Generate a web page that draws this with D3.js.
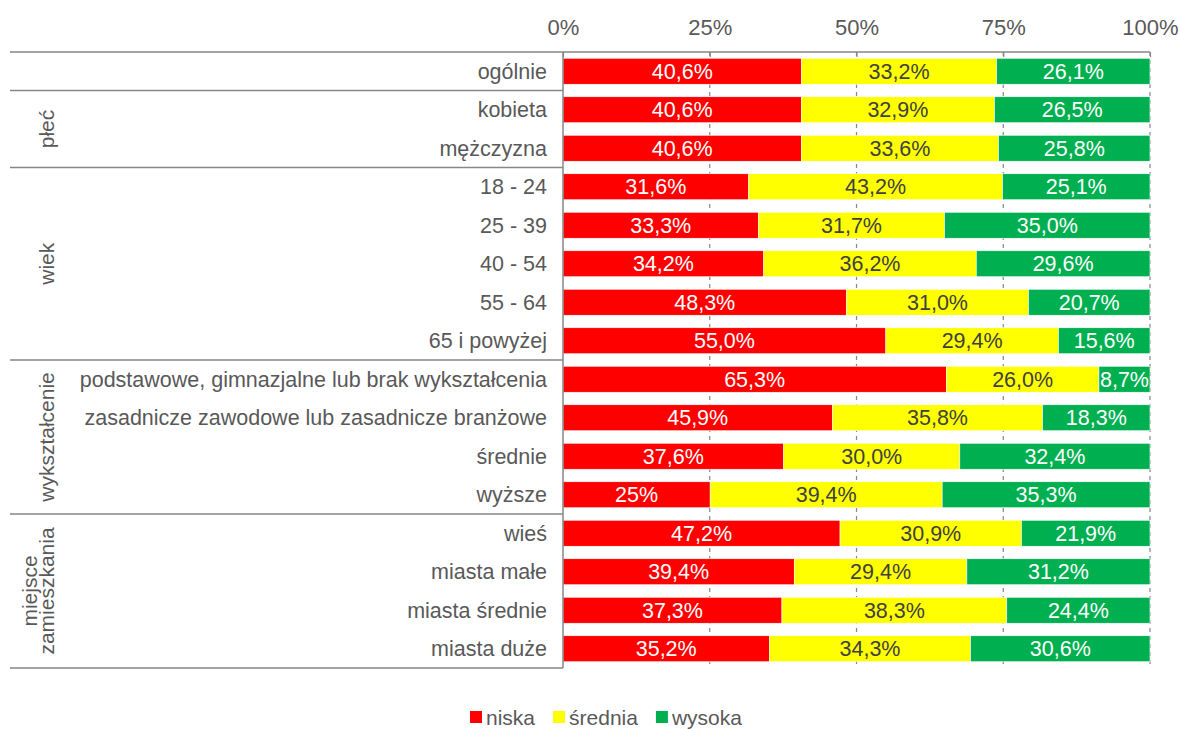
<!DOCTYPE html>
<html><head><meta charset="utf-8">
<script src="https://cdn.jsdelivr.net/npm/d3@7"></script>
<style>body{margin:0;background:#fff}svg{display:block;font-family:"Liberation Sans",Arial,sans-serif}</style>
</head><body><svg id="c" width="1180" height="729"></svg>
<script>
const categories = ["ogólnie","kobieta","mężczyzna","18 - 24","25 - 39","40 - 54","55 - 64","65 i powyżej",
  "podstawowe, gimnazjalne lub brak wykształcenia","zasadnicze zawodowe lub zasadnicze branżowe","średnie","wyższe",
  "wieś","miasta małe","miasta średnie","miasta duże"];
const niska   = ["40,6","40,6","40,6","31,6","33,3","34,2","48,3","55,0","65,3","45,9","37,6","25","47,2","39,4","37,3","35,2"];
const srednia = ["33,2","32,9","33,6","43,2","31,7","36,2","31,0","29,4","26,0","35,8","30,0","39,4","30,9","29,4","38,3","34,3"];
const wysoka  = ["26,1","26,5","25,8","25,1","35,0","29,6","20,7","15,6","8,7","18,3","32,4","35,3","21,9","31,2","24,4","30,6"];
const groups = [
  {name:[""], start:0, end:1},
  {name:["płeć"], start:1, end:3},
  {name:["wiek"], start:3, end:8},
  {name:["wykształcenie"], start:8, end:12},
  {name:["miejsce","zamieszkania"], start:12, end:16}
];
const seriesNames = ["niska","średnia","wysoka"];
const seriesColors = ["#FF0000","#FFFF00","#00B050"];
const labelColors = ["#ffffff","#404040","#ffffff"];
const xTicks = [0,0.25,0.5,0.75,1];

const num = s => +s.replace(",", ".");
const svg = d3.select("#c");
const mLeft = 563, mRight = 1150, mTop = 52, mBottom = 668, tableLeft = 10;
const FS = 21, FSC = 21.5, FST = 22;
const x = d3.scaleLinear().domain([0,1]).range([mLeft,mRight]);
const y = d3.scaleBand().domain(d3.range(categories.length)).range([mTop,mBottom]).paddingInner(0.325).paddingOuter(0.1625);
const gray = "#868686", txt = "#595959";

// gridlines
svg.append("g").selectAll("line").data(xTicks.slice(1)).join("line")
  .attr("x1",d=>x(d)).attr("x2",d=>x(d)).attr("y1",mTop).attr("y2",mBottom)
  .attr("stroke",gray).attr("stroke-width",1.2).attr("stroke-dasharray","4,4");

// bars
const rows = categories.map((c,i)=>{
  const vals=[num(niska[i]),num(srednia[i]),num(wysoka[i])];
  const labs=[niska[i],srednia[i],wysoka[i]];
  const tot=d3.sum(vals); let acc=0;
  return vals.map((v,k)=>{const s={i,k,x0:acc/tot,x1:(acc+v)/tot,label:labs[k]+"%"}; acc+=v; return s;});
}).flat();
const bg = svg.append("g");
bg.selectAll("rect").data(rows).join("rect")
  .attr("x",d=>x(d.x0)).attr("width",d=>x(d.x1)-x(d.x0))
  .attr("y",d=>y(d.i)).attr("height",y.bandwidth())
  .attr("fill",d=>seriesColors[d.k]).attr("stroke","#fff").attr("stroke-width",0.6);
bg.selectAll("text").data(rows).join("text")
  .attr("x",d=>(x(d.x0)+x(d.x1))/2).attr("y",d=>y(d.i)+y.bandwidth()/2)
  .attr("dy","0.36em").attr("text-anchor","middle").attr("font-size",FSC)
  .attr("fill",d=>labelColors[d.k]).text(d=>d.label);

// top axis
const ax = svg.append("g").attr("transform",`translate(0,${mTop})`)
  .call(d3.axisTop(x).tickValues(xTicks).tickFormat(d3.format(".0%")).tickSize(-5).tickPadding(17));
ax.select(".domain").remove();
ax.selectAll(".tick line").attr("stroke",gray).attr("stroke-width",1.2);
ax.selectAll(".tick text").attr("font-size",FST).attr("fill",txt).attr("font-family","Liberation Sans, Arial, sans-serif");

// table lines
const tl = svg.append("g").attr("stroke",gray).attr("stroke-width",1.5);
tl.append("line").attr("x1",tableLeft).attr("x2",mRight).attr("y1",mTop).attr("y2",mTop);
tl.append("line").attr("x1",mLeft).attr("x2",mLeft).attr("y1",mTop).attr("y2",mBottom);
groups.forEach(g=>{
  const yb = mTop + y.step()*g.end;
  tl.append("line").attr("x1",tableLeft).attr("x2",mLeft).attr("y1",yb).attr("y2",yb);
});

// category labels
svg.append("g").selectAll("text").data(categories).join("text")
  .attr("x",mLeft-16).attr("y",(d,i)=>y(i)+y.bandwidth()/2).attr("dy","0.36em")
  .attr("text-anchor","end").attr("font-size",FSC).attr("fill",txt).text(d=>d);

// group labels
groups.forEach(g=>{
  const cy = mTop + y.step()*(g.start+g.end)/2;
  const n = g.name.length;
  g.name.forEach((t,j)=>{
    const cx = 46 - (n-1-j)*17;
    svg.append("text").attr("transform",`translate(${cx},${cy}) rotate(-90)`)
      .attr("text-anchor","middle").attr("dy","0.36em").attr("font-size",FS).attr("fill",txt).text(t);
  });
});

// legend
const lg = svg.append("g").attr("transform","translate(0,717)");
let lx = 470;
seriesNames.forEach((s,k)=>{
  lg.append("rect").attr("x",lx).attr("y",-6).attr("width",12).attr("height",12).attr("fill",seriesColors[k]);
  const t = lg.append("text").attr("x",lx+16).attr("dy","0.36em").attr("font-size",FS).attr("fill",txt).text(s);
  lx += 16 + t.node().getComputedTextLength() + 18;
});
</script></body></html>
